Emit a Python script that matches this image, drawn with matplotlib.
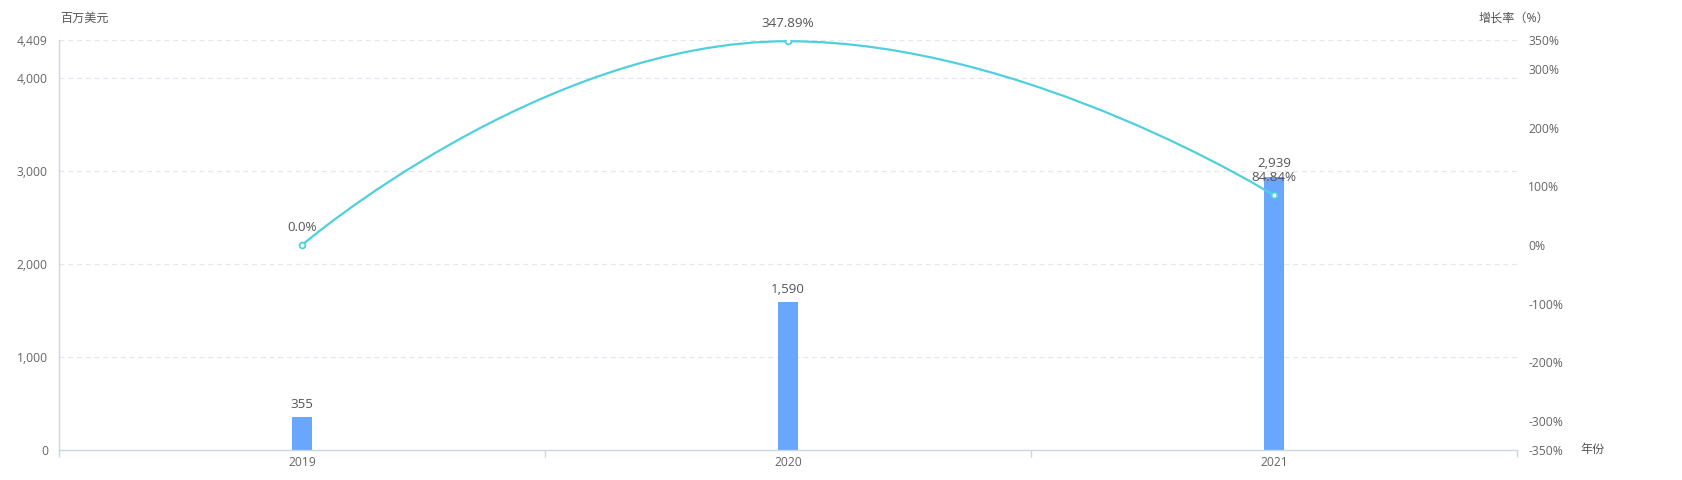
import numpy as np
import matplotlib
matplotlib.use("Agg")
import matplotlib.pyplot as plt
from matplotlib.path import Path
from matplotlib.patches import PathPatch
from matplotlib.ticker import FuncFormatter

plt.rcParams['font.family'] = ['Open Sans', 'Noto Sans CJK SC', 'DejaVu Sans']

years = ['2019', '2020', '2021']
revenue = [355, 1590, 2939]
growth = [0.0, 347.89, 84.84]
growth_labels = ['0.0%', '347.89%', '84.84%']
left_ticks = [0, 1000, 2000, 3000, 4000, 4409]
right_ticks = [-350, -300, -200, -100, 0, 100, 200, 300, 350]

BAR = '#69a6fd'
LINE = '#4fd0dc'
AXIS = '#ccd6e0'
GRID = '#e3e8f0'
TXT = '#666666'

W, H = 1682, 480
fig = plt.figure(figsize=(W / 100, H / 100), dpi=100)
L, R, T, B = 59, 1517, 40, 450
ax = fig.add_axes([L / W, 1 - B / H, (R - L) / W, (B - T) / H])
ax2 = ax.twinx()

x = np.arange(len(years))
ax.set_xlim(-0.5, len(years) - 0.5)
ax.set_ylim(0, 4409)
ax2.set_ylim(-350, 350)

fs = 8.7
lfs = 9.6
ax.bar(x, revenue, width=0.041, color=BAR, zorder=2)
for xi, v in zip(x, revenue):
    ax.annotate(f'{v:,}', (xi, v), xytext=(0, 4.5), textcoords='offset points',
                ha='center', va='bottom', fontsize=lfs, color='#555555')

ax.set_yticks(left_ticks)
ax.yaxis.set_major_formatter(FuncFormatter(lambda v, p: f'{int(v):,}'))
ax.tick_params(axis='y', length=0, pad=8, labelsize=fs, labelcolor=TXT)
for t in left_ticks[1:]:
    ax.axhline(t, color=GRID, lw=0.9, ls=(0, (4, 3)), zorder=0)

ax.set_xticks(x)
ax.set_xticklabels(years)
ax.tick_params(axis='x', length=0, pad=4.5, labelsize=fs, labelcolor=TXT)
ax.set_xticks(np.arange(-0.5, len(years), 1.0), minor=True)
ax.tick_params(axis='x', which='minor', length=5, color=AXIS, width=1)

for s in ['top', 'right']:
    ax.spines[s].set_visible(False)
for s in ['left', 'bottom']:
    ax.spines[s].set_color(AXIS)
    ax.spines[s].set_linewidth(1)
for s in ax2.spines.values():
    s.set_visible(False)

ax2.set_yticks(right_ticks)
ax2.yaxis.set_major_formatter(FuncFormatter(lambda v, p: f'{int(v)}%'))
ax2.tick_params(axis='y', length=0, pad=8, labelsize=fs, labelcolor=TXT)

# echarts-like smooth line computed in display space
fig.canvas.draw()
pts = ax2.transData.transform(np.column_stack([x, growth]))
smooth = 0.5
verts = [tuple(pts[0])]
codes = [Path.MOVETO]
cp0 = pts[0].copy()
n = len(pts)
for i in range(1, n):
    px, py = pts[i - 1]
    cx, cy = pts[i]
    if i == n - 1:
        cp1 = np.array([cx, cy])
        ncp0 = None
    else:
        nx, ny = pts[i + 1]
        vx, vy = nx - px, ny - py
        lp = np.hypot(cx - px, cy - py)
        ln = np.hypot(nx - cx, ny - cy)
        ratio = ln / (ln + lp)
        ncx = cx + vx * smooth * ratio
        ncy = cy + vy * smooth * ratio
        ncx = max(min(ncx, max(nx, cx)), min(nx, cx))
        ncy = max(min(ncy, max(ny, cy)), min(ny, cy))
        vx, vy = ncx - cx, ncy - cy
        c1x = cx - vx * lp / ln
        c1y = cy - vy * lp / ln
        c1x = max(min(c1x, max(px, cx)), min(px, cx))
        c1y = max(min(c1y, max(py, cy)), min(py, cy))
        vx, vy = cx - c1x, cy - c1y
        ncp0 = np.array([cx + vx * ln / lp, cy + vy * ln / lp])
        cp1 = np.array([c1x, c1y])
    verts += [tuple(cp0), tuple(cp1), (cx, cy)]
    codes += [Path.CURVE4] * 3
    cp0 = ncp0
inv = ax2.transData.inverted()
dverts = inv.transform(np.array(verts))
ax2.add_patch(PathPatch(Path(dverts, codes), fill=False, edgecolor=LINE, lw=1.6, zorder=3))
ax2.plot(x, growth, ls='none', marker='o', ms=4.2, mfc='white', mec=LINE, mew=1.3, zorder=4)
for xi, v, lab in zip(x, growth, growth_labels):
    ax2.annotate(lab, (xi, v), xytext=(0, 8), textcoords='offset points',
                 ha='center', va='bottom', fontsize=lfs, color='#555555', zorder=5)

# axis names
fig.text(60 / W, 1 - 18 / H, '百万美元', ha='left', va='center', fontsize=fs, color='#555555')
fig.text(1514 / W, 1 - 18 / H, '增长率（%）', ha='center', va='center', fontsize=fs, color='#555555')
fig.text(1580 / W, 1 - 449 / H, '年份', ha='left', va='center', fontsize=fs, color='#555555')

fig.savefig('out.png', dpi=100)
